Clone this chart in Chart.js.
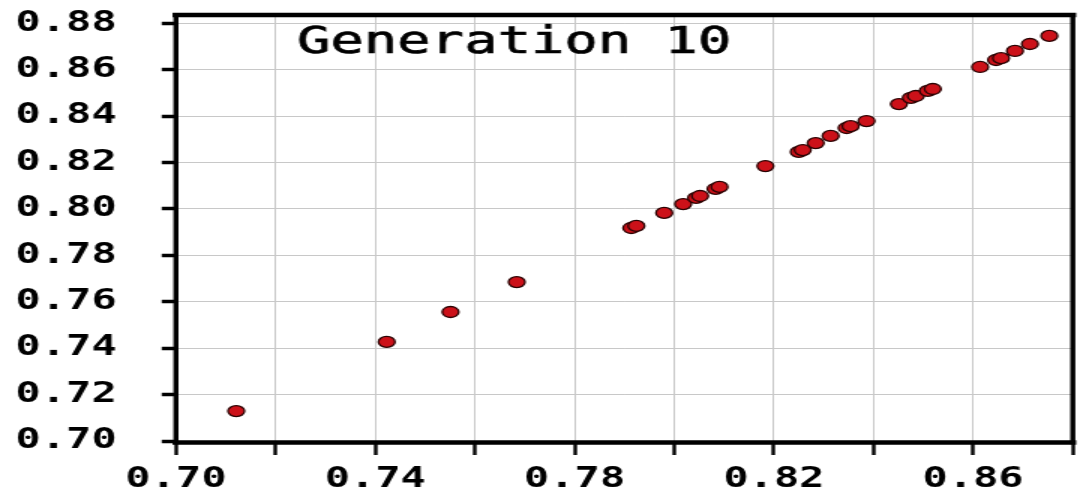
<!DOCTYPE html>
<html>
<head>
<meta charset="utf-8">
<script src="https://cdn.jsdelivr.net/npm/chart.js@4.4.1/dist/chart.umd.min.js"></script>
<style>
  html, body { margin: 0; padding: 0; background: #ffffff; overflow: hidden; }
  #wrap { position: absolute; left: 0; top: 0; width: 722px; height: 499px; transform: scaleX(1.5); transform-origin: 0 0; }
  canvas { display: block; }
</style>
</head>
<body>
<div id="wrap"><canvas id="c" width="722" height="499"></canvas></div>
<script>
const titleText = "Generation 10";
const xValues = [0.7121, 0.7423, 0.7551, 0.7684, 0.7914, 0.7924, 0.7980, 0.8018, 0.8044, 0.8052, 0.8083, 0.8091, 0.8183, 0.8250, 0.8258, 0.8284, 0.8314, 0.8346, 0.8354, 0.8386, 0.8451, 0.8475, 0.8485, 0.8509, 0.8519, 0.8614, 0.8646, 0.8656, 0.8684, 0.8714, 0.8753];
const yValues = [0.7129, 0.7427, 0.7556, 0.7685, 0.7918, 0.7927, 0.7983, 0.8021, 0.8048, 0.8056, 0.8087, 0.8095, 0.8185, 0.8246, 0.8254, 0.8284, 0.8315, 0.8349, 0.8357, 0.8379, 0.8452, 0.8479, 0.8487, 0.8509, 0.8517, 0.8612, 0.8642, 0.8650, 0.8681, 0.8711, 0.8746];
const xTicks = [0.70, 0.72, 0.74, 0.76, 0.78, 0.80, 0.82, 0.84, 0.86, 0.88];
const xTickLabels = ["0.70", "", "0.74", "", "0.78", "", "0.82", "", "0.86", ""];
const yTicks = [0.70, 0.72, 0.74, 0.76, 0.78, 0.80, 0.82, 0.84, 0.86, 0.88];
const yTickLabels = ["0.70", "0.72", "0.74", "0.76", "0.78", "0.80", "0.82", "0.84", "0.86", "0.88"];

const points = xValues.map((x, i) => ({ x: x, y: yValues[i] }));

const framePlugin = {
  id: 'frame',
  afterDraw(chart) {
    const ctx = chart.ctx;
    const a = chart.chartArea;
    ctx.save();
    ctx.strokeStyle = '#000';
    ctx.lineCap = 'square';
    ctx.lineWidth = 4.5;
    ctx.beginPath();
    ctx.moveTo(a.left, a.top); ctx.lineTo(a.right, a.top);
    ctx.moveTo(a.left, a.bottom + 1.5); ctx.lineTo(a.right, a.bottom + 1.5);
    ctx.stroke();
    ctx.lineWidth = 3.4;
    ctx.beginPath();
    ctx.moveTo(a.left, a.top); ctx.lineTo(a.left, a.bottom + 1.5);
    ctx.moveTo(a.right, a.top); ctx.lineTo(a.right, a.bottom + 1.5);
    ctx.stroke();
    ctx.fillStyle = '#000';
    ctx.font = '37px "DejaVu Sans Mono"';
    ctx.textBaseline = 'alphabetic';
    ctx.textAlign = 'left';
    ctx.fillText(titleText, 198, 53);
    ctx.lineWidth = 0.7;
    ctx.lineCap = 'butt';
    ctx.strokeText(titleText, 198, 53);
    ctx.restore();
  }
};

new Chart(document.getElementById('c'), {
  type: 'scatter',
  data: {
    datasets: [{
      data: points,
      backgroundColor: '#cc1119',
      borderColor: '#2a0303',
      borderWidth: 1.3,
      pointRadius: 5.5,
      pointHoverRadius: 5.5
    }]
  },
  options: {
    responsive: false,
    animation: false,
    events: [],
    layout: { padding: { top: 15, right: 1, bottom: 0, left: 0 } },
    plugins: { legend: { display: false }, tooltip: { enabled: false }, title: { display: false } },
    scales: {
      x: {
        type: 'linear',
        min: 0.70,
        max: 0.88,
        afterFit(scale) { scale.height = 58; scale.paddingLeft = 0; scale.paddingRight = 0; scale.paddingTop = 0; scale.paddingBottom = 0; },
        afterBuildTicks(scale) { scale.ticks = xTicks.map(v => ({ value: v })); },
        border: { display: false },
        grid: { color: '#c8c8c8', lineWidth: 1, tickColor: '#000', tickWidth: 2.4, tickLength: 14, drawTicks: true },
        ticks: {
          autoSkip: false,
          maxRotation: 0,
          padding: 8,
          color: '#000',
          font: { family: '"DejaVu Sans Mono"', size: 28, weight: 'bold' },
          callback(value, index) { return xTickLabels[index]; }
        }
      },
      y: {
        type: 'linear',
        min: 0.70,
        max: 0.8836,
        afterFit(scale) { scale.width = 117.3; scale.paddingLeft = 0; scale.paddingRight = 0; scale.paddingTop = 0; scale.paddingBottom = 0; },
        afterBuildTicks(scale) { scale.ticks = yTicks.map(v => ({ value: v })); },
        border: { display: false },
        grid: { color: '#c8c8c8', lineWidth: 1, tickColor: '#000', tickWidth: 3.5, tickLength: 9.5, drawTicks: true },
        ticks: {
          autoSkip: false,
          padding: 30,
          color: '#000',
          font: { family: '"DejaVu Sans Mono"', size: 28, weight: 'bold' },
          callback(value, index) { return yTickLabels[index]; }
        }
      }
    }
  },
  plugins: [framePlugin]
});
</script>
</body>
</html>
